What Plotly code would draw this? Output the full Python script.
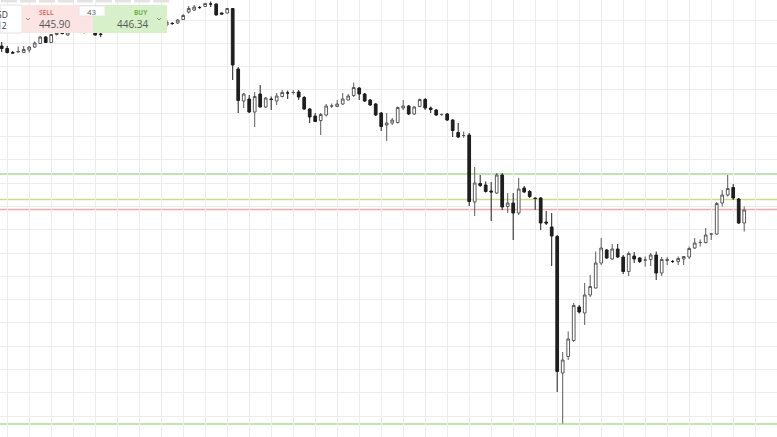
import plotly.graph_objects as go

# ---- data (one candle per period) ----
periods = list(range(136))

open_ = [478.8, 478.3, 477.5, 477.6, 477.5, 478.0, 478.6, 479.3, 480.6, 479.5,
         481.1, 481.3, 481.0, 481.8, 482.0, 481.5, 481.8, 481.5, 481.2, 481.6,
         482.2, 482.4, 482.2, 482.8, 482.6, 483.2, 483.0, 483.4, 483.2, 483.6,
         483.0, 483.3, 483.4, 484.1, 485.6, 486.0, 486.5, 486.7, 487.2, 487.2,
         485.4, 485.4, 486.3, 474.2, 467.8, 468.2, 465.6, 469.2, 466.6, 468.2,
         467.8, 468.7, 469.4, 469.5, 469.6, 468.5, 466.2, 464.8, 463.9, 465.0,
         466.8, 466.7, 467.2, 468.0, 468.9, 470.4, 469.2, 468.0, 467.2, 465.4,
         463.0, 463.4, 463.5, 466.4, 466.8, 465.2, 466.7, 468.1, 466.4, 466.0,
         465.1, 465.2, 464.0, 461.5, 460.9, 461.0, 447.6, 451.3, 451.0, 449.8,
         449.4, 453.0, 446.7, 447.4, 445.4, 450.4, 449.7, 448.4, 448.4, 443.6,
         442.6, 440.7, 413.4, 416.7, 419.9, 426.6, 425.4, 429.0, 430.4, 435.4,
         438.0, 436.2, 438.2, 436.6, 433.7, 436.8, 436.4, 436.0, 436.1, 437.0,
         433.4, 435.9, 435.7, 435.7, 436.2, 436.6, 438.4, 439.5, 439.5, 441.2,
         441.2, 447.4, 449.0, 450.5, 448.2, 443.4]

high = [479.6, 478.8, 477.8, 478.7, 478.8, 478.8, 479.7, 480.8, 480.8, 481.2,
        481.6, 481.4, 481.8, 482.4, 482.4, 481.8, 482.4, 482.0, 481.4, 482.6,
        482.8, 482.8, 483.0, 483.2, 483.6, 483.6, 483.8, 483.8, 484.0, 484.0,
        484.0, 483.6, 484.2, 485.2, 486.8, 487.0, 486.8, 487.4, 487.7, 487.3,
        485.5, 486.4, 486.4, 474.6, 469.4, 469.0, 469.6, 471.0, 468.6, 468.7,
        469.4, 470.0, 469.9, 470.0, 470.0, 468.8, 466.4, 465.4, 465.4, 467.2,
        467.3, 468.0, 469.4, 469.2, 471.5, 470.6, 469.4, 468.2, 467.4, 465.6,
        465.4, 464.4, 466.7, 468.0, 467.0, 466.8, 468.3, 468.4, 466.7, 466.2,
        465.3, 465.4, 464.2, 463.4, 461.7, 461.4, 454.6, 453.0, 451.7, 451.6,
        453.4, 453.4, 449.4, 449.4, 452.4, 450.8, 450.0, 448.5, 448.6, 445.8,
        445.4, 441.0, 417.6, 421.7, 427.4, 427.0, 431.4, 433.0, 437.7, 440.4,
        438.2, 439.2, 439.2, 437.0, 437.7, 437.6, 436.6, 436.7, 437.4, 437.7,
        436.6, 436.6, 436.0, 436.7, 436.8, 438.7, 440.4, 440.1, 442.4, 441.4,
        447.6, 450.0, 453.0, 451.2, 448.4, 446.7]

low = [477.6, 477.3, 477.2, 477.5, 477.4, 477.5, 478.4, 479.2, 479.4, 479.4,
       480.9, 481.1, 480.9, 481.6, 481.6, 481.3, 481.6, 480.9, 480.6, 481.5,
       481.8, 482.0, 482.0, 482.4, 482.4, 482.8, 482.8, 483.0, 483.0, 483.0,
       482.8, 483.0, 483.2, 484.0, 485.3, 485.8, 486.2, 486.6, 486.6, 484.9,
       485.1, 485.3, 472.0, 465.4, 466.4, 465.4, 462.6, 466.5, 466.4, 466.0,
       467.0, 468.5, 468.2, 469.1, 468.0, 466.0, 463.4, 463.6, 461.0, 464.7,
       466.4, 466.6, 467.0, 467.9, 468.6, 468.0, 467.6, 466.8, 464.8, 461.8,
       459.8, 463.0, 463.3, 466.0, 465.0, 465.0, 466.6, 466.0, 465.4, 464.8,
       464.8, 463.8, 460.6, 460.4, 460.4, 446.8, 444.8, 450.6, 449.5, 443.8,
       449.2, 446.0, 445.4, 440.0, 445.0, 449.4, 448.4, 446.0, 442.0, 443.0,
       434.8, 409.6, 403.3, 416.0, 419.6, 425.3, 423.0, 428.6, 430.3, 435.0,
       436.2, 436.0, 436.4, 433.2, 432.8, 435.4, 435.4, 434.7, 434.8, 432.0,
       432.8, 435.0, 435.4, 435.0, 435.0, 436.2, 438.2, 438.7, 439.3, 440.0,
       441.0, 446.7, 448.7, 448.0, 443.2, 441.7]

close = [478.3, 477.5, 477.4, 477.7, 478.1, 478.6, 479.4, 480.6, 479.5, 481.1,
         481.4, 481.3, 481.6, 482.0, 481.8, 481.5, 482.0, 481.0, 481.1, 482.2,
         482.4, 482.2, 482.8, 482.6, 483.2, 483.0, 483.4, 483.2, 483.6, 483.2,
         483.6, 483.3, 484.0, 484.9, 486.3, 486.6, 486.5, 487.3, 487.2, 485.0,
         485.2, 486.3, 475.0, 467.9, 469.2, 465.6, 468.7, 466.6, 468.4, 468.1,
         468.8, 469.5, 469.4, 469.5, 468.6, 466.2, 464.6, 463.7, 465.1, 466.8,
         466.8, 467.2, 468.2, 468.8, 470.5, 469.2, 467.8, 467.0, 465.0, 462.7,
         463.4, 464.0, 466.5, 466.8, 465.2, 466.6, 468.1, 466.4, 466.1, 465.0,
         465.1, 464.0, 461.9, 460.6, 460.9, 447.7, 451.4, 450.9, 449.7, 449.6,
         453.0, 446.6, 447.4, 445.4, 450.2, 449.6, 448.7, 448.3, 443.4, 443.4,
         440.8, 413.7, 416.0, 420.2, 426.9, 425.6, 429.0, 430.7, 435.4, 438.4,
         436.4, 438.2, 436.6, 433.7, 437.3, 436.2, 435.7, 436.0, 437.0, 433.4,
         436.1, 436.1, 435.7, 436.3, 436.7, 438.3, 439.4, 439.5, 441.0, 441.2,
         447.3, 449.0, 450.3, 448.4, 443.4, 446.0]

# horizontal price levels
level_prices = [453.2, 448.1, 446.1, 403.2]
level_colors = ["#a9dc8f", "#cadf8e", "#f3aaaa", "#a9dc8f"]

sell_price = "445.90"
buy_price = "446.34"
qty_label = "43"

W, H = 777, 437

fig = go.Figure(go.Candlestick(
    x=periods, open=open_, high=high, low=low, close=close,
    increasing=dict(line=dict(color="#5a5a5a", width=1), fillcolor="#ffffff"),
    decreasing=dict(line=dict(color="#1e1e1e", width=1), fillcolor="#1e1e1e"),
    whiskerwidth=0, showlegend=False, hoverinfo="skip",
))

shapes = []
for p, c in zip(level_prices, level_colors):
    shapes.append(dict(type="line", xref="paper", yref="y", x0=0, x1=1, y0=p, y1=p,
                       line=dict(color=c, width=1.5), layer="between"))


def px(x):
    return x / W


def py(y):
    return 1 - y / H


def rect(x0, y0, x1, y1, fill, line=None):
    shapes.append(dict(type="rect", xref="paper", yref="paper",
                       x0=px(x0), x1=px(x1), y0=py(y1), y1=py(y0),
                       fillcolor=fill, line=dict(color=line or fill, width=1 if line else 0),
                       layer="above"))


# top toolbar remnants
for k in range(9):
    rect(1 + 19 * k, 0, 17 + 19 * k, 2.5, "#e3e3e3")

# order widget
rect(0, 5, 22, 33, "#ffffff", "#e2e2e2")
rect(22, 5, 93, 33, "#fce4e2")
rect(93, 5, 167, 33, "#d8f0ca")
rect(79, 6, 105, 16, "#ffffff", "#e4e4e4")

for cx in (28, 159):
    shapes.append(dict(type="path", xref="paper", yref="paper",
                       path=f"M {px(cx-2)},{py(18)} L {px(cx)},{py(20)} L {px(cx+2)},{py(18)}",
                       line=dict(color="#8a8a8a", width=1), layer="above"))

annotations = []


def text(t, x, y, size, color, anchor="left", bold=False):
    annotations.append(dict(text=f"<b>{t}</b>" if bold else t, xref="paper", yref="paper",
                            x=px(x), y=py(y), xanchor=anchor, yanchor="middle",
                            borderpad=0,
                            showarrow=False, font=dict(family="Open Sans", size=size, color=color)))


text("SD", 8.5, 14.5, 8.5, "#333333", anchor="right")
text("12", 7.5, 25.5, 8.5, "#333333", anchor="right")
text("SELL", 38, 12.5, 6.5, "#e5736b", bold=True)
text(sell_price, 37.5, 24.5, 10, "#555555")
text(qty_label, 92, 11, 8, "#555555", anchor="center")
text("BUY", 148.5, 12.5, 6.5, "#6fb24a", anchor="right", bold=True)
text(buy_price, 148.5, 24.5, 10, "#555555", anchor="right")

fig.update_layout(
    width=W, height=H, margin=dict(l=0, r=0, t=0, b=0),
    paper_bgcolor="#ffffff", plot_bgcolor="#ffffff",
    shapes=shapes, annotations=annotations,
    hovermode=False, dragmode=False,
    xaxis=dict(range=[-1.7 / 5.5, (W - 1.7) / 5.5], tick0=1, dtick=4,
               showgrid=True, gridcolor="#ececec", gridwidth=1,
               showticklabels=False, zeroline=False, showline=False,
               rangeslider=dict(visible=False), ticks=""),
    yaxis=dict(range=[488 - 0.2 * H, 488], tick0=484, dtick=4.66,
               showgrid=True, gridcolor="#ececec", gridwidth=1,
               showticklabels=False, zeroline=False, showline=False, ticks=""),
)

fig.write_html("out.html",
               config={"displayModeBar": False, "staticPlot": True},
               post_script="document.body.style.margin='0';document.body.style.overflow='hidden';")
